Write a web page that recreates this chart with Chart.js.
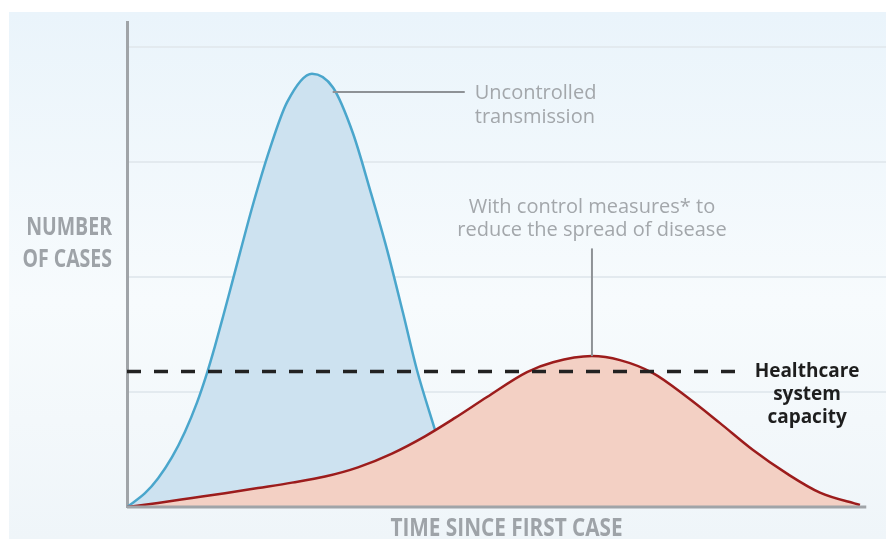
<!DOCTYPE html>
<html>
<head>
<meta charset="utf-8">
<script src="https://cdn.jsdelivr.net/npm/chart.js@4.4.1/dist/chart.umd.min.js"></script>
<style>
  html, body { margin: 0; padding: 0; background: #ffffff; }
  canvas { display: block; }
</style>
</head>
<body>
<canvas id="curveChart" width="886" height="539"></canvas>
<script>
// Curve without measures (time, cases)
const uncontrolledX = [0, 2.37, 4.08, 5.93, 7.64, 9.22, 10.54, 11.59, 12.65, 13.83, 14.89, 16.6, 18.84, 21.08, 24.37, 27.14, 29.78, 32.02, 34.26, 36.36, 38.21, 40.58];
const uncontrolledY = [0, 0.12, 0.248, 0.433, 0.655, 0.908, 1.165, 1.40, 1.655, 1.948, 2.213, 2.632, 3.12, 3.52, 3.77, 3.65, 3.25, 2.76, 2.24, 1.69, 1.19, 0.67];

// Curve with control measures
const controlledX = [0, 4.08, 8.56, 12.91, 17.26, 21.74, 26.09, 30.43, 34.91, 39.26, 43.21, 47.43, 52.7, 56.13, 61.26, 64.95, 69.3, 73.78, 78.13, 82.48, 86.96, 91.3, 96.57];
const controlledY = [0, 0.035, 0.078, 0.12, 0.165, 0.212, 0.265, 0.345, 0.465, 0.615, 0.775, 0.957, 1.174, 1.26, 1.313, 1.278, 1.165, 0.957, 0.73, 0.496, 0.29, 0.125, 0.017];

// Healthcare capacity threshold
const capacityX = [0, 80.8];
const capacityLevel = 1.18;

const yGridValues = [1, 2, 3, 4];

const yAxisTitle = ["NUMBER", "OF CASES"];
const xAxisTitle = "TIME SINCE FIRST CASE";
const uncontrolledLabel = ["Uncontrolled", "transmission"];
const controlledLabel = ["With control measures* to", "reduce the spread of disease"];
const capacityLabel = ["Healthcare", "system", "capacity"];

const toPoints = (xs, ys) => xs.map((x, i) => ({ x: x, y: ys[i] }));

// draws condensed text by squeezing horizontally
function squeezedText(ctx, text, x, y, align, squeeze) {
    ctx.save();
    ctx.translate(x, y);
    ctx.scale(squeeze, 1);
    ctx.textAlign = align;
    ctx.fillText(text, 0, 0);
    ctx.restore();
}

const backgroundPlugin = {
    id: "panelBackground",
    beforeDraw(chart) {
        const ctx = chart.ctx;
        const grad = ctx.createLinearGradient(0, 12, 0, chart.height);
        grad.addColorStop(0, "#eaf4fb");
        grad.addColorStop(0.55, "#f7fbfd");
        grad.addColorStop(1, "#eff5f9");
        ctx.save();
        ctx.fillStyle = grad;
        ctx.fillRect(9, 12, chart.width - 9, chart.height - 12);
        ctx.restore();
    }
};

const annotationPlugin = {
    id: "curveNotes",
    afterDatasetsDraw(chart) {
        const ctx = chart.ctx;
        const xs = chart.scales.x;
        const ys = chart.scales.y;
        const area = chart.chartArea;

        ctx.save();

        // x axis baseline
        ctx.strokeStyle = "#a0a4a8";
        ctx.lineWidth = 3;
        ctx.beginPath();
        ctx.moveTo(area.left, ys.getPixelForValue(0));
        ctx.lineTo(xs.getPixelForValue(97.4), ys.getPixelForValue(0));
        ctx.stroke();

        // callout lines
        ctx.strokeStyle = "#8e9296";
        ctx.lineWidth = 2;
        const calloutY = ys.getPixelForValue(3.61);
        ctx.beginPath();
        ctx.moveTo(xs.getPixelForValue(27.1), calloutY);
        ctx.lineTo(xs.getPixelForValue(44.5), calloutY);
        ctx.stroke();

        const peakIdx = controlledY.indexOf(Math.max(...controlledY));
        const peakX = xs.getPixelForValue(controlledX[peakIdx]);
        const stemTop = ys.getPixelForValue(2.25);
        ctx.beginPath();
        ctx.moveTo(peakX, ys.getPixelForValue(controlledY[peakIdx]));
        ctx.lineTo(peakX, stemTop);
        ctx.stroke();

        // gray labels
        ctx.fillStyle = "#a3a7ab";
        ctx.font = "20px 'Open Sans'";
        ctx.textBaseline = "middle";
        ctx.textAlign = "left";
        uncontrolledLabel.forEach((line, i) => {
            ctx.fillText(line, xs.getPixelForValue(44.5) + 10, calloutY + 1 + i * 24);
        });
        ctx.textAlign = "center";
        controlledLabel.forEach((line, i) => {
            ctx.fillText(line, peakX, stemTop - 41 + i * 23);
        });

        // capacity label
        ctx.fillStyle = "#1e1e1e";
        ctx.font = "bold 19px 'Open Sans'";
        const capY = ys.getPixelForValue(capacityLevel);
        capacityLabel.forEach((line, i) => {
            ctx.fillText(line, xs.getPixelForValue(89.6), capY + i * 23);
        });

        // axis titles
        ctx.fillStyle = "#9ea3a8";
        ctx.font = "bold 25px 'Open Sans'";
        yAxisTitle.forEach((line, i) => {
            squeezedText(ctx, line, area.left - 15, ys.getPixelForValue(2.43) + i * 32, "right", 0.78);
        });
        squeezedText(ctx, xAxisTitle, (area.left + area.right) / 2, area.bottom + 22, "center", 0.83);

        ctx.restore();
    }
};

new Chart(document.getElementById("curveChart"), {
    type: "line",
    data: {
        datasets: [
            {
                label: "Healthcare system capacity",
                data: toPoints(capacityX, [capacityLevel, capacityLevel]),
                borderColor: "#222222",
                borderWidth: 3.5,
                borderDash: [14, 13],
                pointRadius: 0,
                fill: false,
                order: 0
            },
            {
                label: "With control measures",
                data: toPoints(controlledX, controlledY),
                borderColor: "#9c1c1c",
                backgroundColor: "#f3d0c4",
                borderWidth: 2.5,
                pointRadius: 0,
                cubicInterpolationMode: "monotone",
                fill: "origin",
                order: 1
            },
            {
                label: "Uncontrolled transmission",
                data: toPoints(uncontrolledX, uncontrolledY),
                borderColor: "#4aa6cc",
                backgroundColor: "#cde2f0",
                borderWidth: 2.5,
                pointRadius: 0,
                cubicInterpolationMode: "monotone",
                fill: "origin",
                order: 2
            }
        ]
    },
    options: {
        responsive: false,
        animation: false,
        devicePixelRatio: 1,
        layout: { padding: { left: 127, top: 22, right: 0, bottom: 32 } },
        plugins: {
            legend: { display: false },
            tooltip: { enabled: false }
        },
        scales: {
            x: {
                type: "linear",
                min: 0,
                max: 100,
                ticks: { display: false },
                grid: { display: false, drawTicks: false },
                border: { display: false }
            },
            y: {
                min: 0,
                max: 4.22,
                afterBuildTicks: (scale) => {
                    scale.ticks = yGridValues.map(v => ({ value: v }));
                },
                ticks: { display: false },
                grid: { color: "#e3eaef", lineWidth: 2, drawTicks: false },
                border: { display: true, color: "#a0a4a8", width: 3 }
            }
        }
    },
    plugins: [backgroundPlugin, annotationPlugin]
});
</script>
</body>
</html>
